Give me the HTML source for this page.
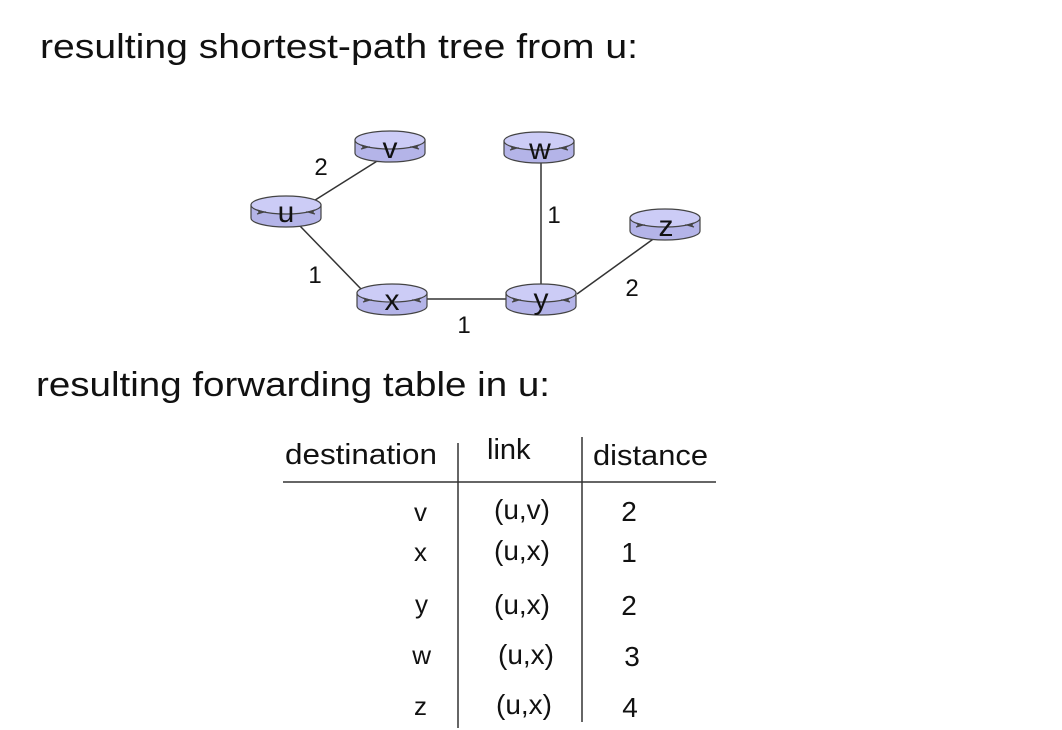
<!DOCTYPE html>
<html><head><meta charset="utf-8"><style>
html,body{margin:0;padding:0;background:#fff;}
svg{display:block;}
text{font-family:"Liberation Sans",sans-serif;fill:#111;}
</style></head><body>
<svg width="1062" height="730" viewBox="0 0 1062 730">
<defs>
<g id="r">
<path d="M-35,-6 L-35,7 A35,9 0 0 0 35,7 L35,-6 Z" fill="#b4b4e8" stroke="#444" stroke-width="1.2"/>
<ellipse cx="0" cy="-6" rx="35" ry="9" fill="#ccccf6" stroke="#444" stroke-width="1.2"/>
<path d="M-29,-1 l7,2 l-7,2 M29,-1 l-7,2 l7,2 M-20,1 h-8 M20,1 h8" fill="none" stroke="#444" stroke-width="1.2"/>
</g>
</defs>
<text x="40" y="58" font-size="34" textLength="598" lengthAdjust="spacingAndGlyphs">resulting shortest-path tree from u:</text>
<g stroke="#333" stroke-width="1.5" fill="none">
<line x1="312" y1="202" x2="382" y2="158"/>
<line x1="300" y1="226" x2="362" y2="290"/>
<line x1="427" y1="299" x2="507" y2="299"/>
<line x1="541" y1="158" x2="541" y2="285"/>
<line x1="577" y1="294" x2="656" y2="237"/>
</g>
<use href="#r" x="390" y="146"/>
<use href="#r" x="539" y="147"/>
<use href="#r" x="286" y="211"/>
<use href="#r" x="665" y="224"/>
<use href="#r" x="392" y="299"/>
<use href="#r" x="541" y="299"/>
<g font-size="30" text-anchor="middle">
<text x="390" y="158">v</text>
<text x="540" y="159">w</text>
<text x="286" y="222">u</text>
<text x="666" y="236">z</text>
<text x="392" y="310">x</text>
<text x="541" y="309">y</text>
</g>
<g font-size="24" text-anchor="middle">
<text x="321" y="175">2</text>
<text x="315" y="283">1</text>
<text x="464" y="333">1</text>
<text x="554" y="223">1</text>
<text x="632" y="296">2</text>
</g>
<text x="36" y="396" font-size="34" textLength="514" lengthAdjust="spacingAndGlyphs">resulting forwarding table in u:</text>
<g stroke="#333" stroke-width="1.5">
<line x1="283" y1="482" x2="716" y2="482"/>
<line x1="458" y1="443" x2="458" y2="728"/>
<line x1="582" y1="437" x2="582" y2="722"/>
</g>
<g font-size="29">
<text x="285" y="464" textLength="152" lengthAdjust="spacingAndGlyphs">destination</text>
<text x="487" y="459">link</text>
<text x="593" y="465" textLength="115" lengthAdjust="spacingAndGlyphs">distance</text>
</g>
<g font-size="26" text-anchor="end">
<text x="427" y="521">v</text>
<text x="427" y="561">x</text>
<text x="428" y="613">y</text>
<text x="431" y="664">w</text>
<text x="427" y="715">z</text>
</g>
<g font-size="28" text-anchor="middle">
<text x="522" y="519">(u,v)</text>
<text x="522" y="560">(u,x)</text>
<text x="522" y="614">(u,x)</text>
<text x="526" y="664">(u,x)</text>
<text x="524" y="714">(u,x)</text>
<text x="629" y="521">2</text>
<text x="629" y="562">1</text>
<text x="629" y="615">2</text>
<text x="632" y="666">3</text>
<text x="630" y="717">4</text>
</g>
</svg>
</body></html>
